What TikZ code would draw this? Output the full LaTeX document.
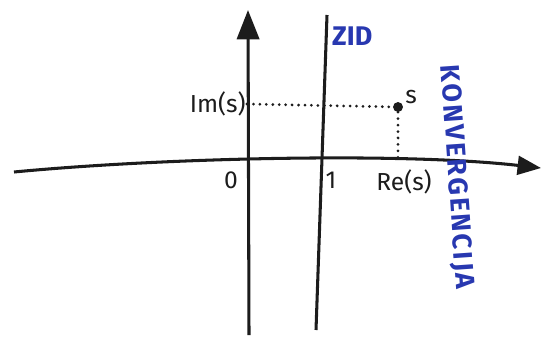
\documentclass[tikz,border=0pt]{standalone}
\usepackage{fontspec}
\setmainfont{Fira Sans}
\usetikzlibrary{arrows.meta,positioning}
\definecolor{inkblack}{HTML}{1C1C1C}
\definecolor{inkblue}{HTML}{2838B0}
\tikzset{
  axisline/.style={inkblack, line width=2.6pt},
  wallline/.style={inkblack, line width=2.6pt},
  guide/.style={inkblack, line width=2.6pt, line cap=round, dash pattern=on 0pt off 5.5pt},
  point/.style={circle, fill=inkblack, inner sep=3pt},
  ticklabel/.style={inkblack, font=\fontsize{21}{21}\selectfont, inner sep=1pt},
  bluelabel/.style={inkblue, font=\bfseries\fontsize{23}{23}\selectfont, inner sep=0pt}
}
\begin{document}
\begin{tikzpicture}[x=0.03cm, y=-0.03cm]
  \useasboundingbox (0,0) rectangle (543,337);
  % axes
  \coordinate (xstart) at (14,172);
  \coordinate (xend) at (541,168);
  \coordinate (ystart) at (249,335);
  \coordinate (yend) at (248,10);
  \draw[axisline, -{Triangle[length=20pt, width=16pt]}] (xstart) .. controls (160,158) and (400,152) .. (xend);
  \draw[axisline, -{Triangle[length=25pt, width=19pt]}] (ystart) -- (yend);
  % wall
  \coordinate (wallbot) at (316,330);
  \coordinate (walltop) at (327,15);
  \draw[wallline] (wallbot) -- (walltop);
  \node[bluelabel, anchor=west] (zid) at (332,36) {ZID};
  % point s
  \node[point] (s) at (398,107) {};
  \node[ticklabel, above right=-2pt and 2pt of s] (slabel) {s};
  \node[ticklabel, anchor=east] (im) at (247,104) {Im(s)};
  \coordinate (refoot) at (398,160);
  \draw[guide] (im.east) -- (s);
  \draw[guide] (s) -- (refoot);
  \node[ticklabel] (zero) at (231,180) {0};
  \node[ticklabel] (one) at (331,180) {1};
  \node[ticklabel] (re) at (404,182) {Re(s)};
  % convergence
  \node[bluelabel, rotate=-86] (konv) at (456,177) {\addfontfeature{LetterSpace=9}KONVERGENCIJA};
\end{tikzpicture}
\end{document}
